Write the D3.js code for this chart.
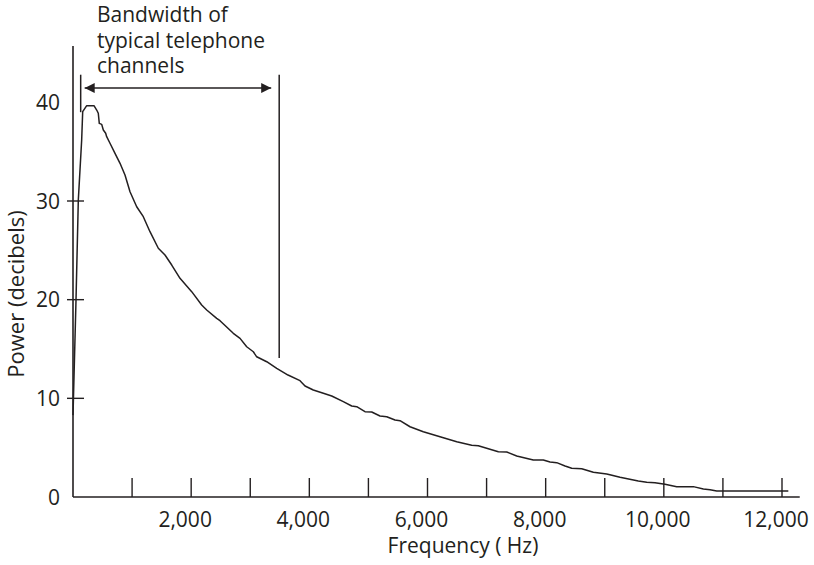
<!DOCTYPE html>
<html>
<head>
<meta charset="utf-8">
<script src="https://cdn.jsdelivr.net/npm/d3@7"></script>
<style>
 body { margin:0; background:#fff; }
 text { font-family:"Open Sans", sans-serif; fill:#231f20; }
</style>
</head>
<body>
<div id="container"></div>
<script>

// spectrum: frequency (Hz) and power (dB)
const freqs = [0,51,90,147,164,232,355,401,428,445,486,513,553,570,626,711,796,880,965,1078,1190,1303,1444,1557,1671,1811,2009,2178,2263,2432,2488,2713,2827,2940,3052,3109,3279,3448,3639,3842,3927,4067,4237,4379,4575,4717,4802,4942,5056,5196,5310,5450,5535,5704,5929,6212,6495,6748,6860,7199,7341,7510,7791,7960,8074,8187,8328,8441,8610,8807,9034,9259,9568,9711,9851,10020,10218,10499,10669,10782,10896,12107];
const power = [8.3,20.0,30.1,36.2,39.05,39.66,39.66,39.22,38.89,37.87,37.77,37.19,36.86,36.52,35.85,34.83,33.82,32.63,30.94,29.42,28.41,26.89,25.21,24.53,23.51,22.16,20.81,19.46,18.95,18.11,17.87,16.59,16.08,15.23,14.72,14.21,13.71,13.04,12.36,11.79,11.25,10.84,10.51,10.24,9.66,9.22,9.15,8.65,8.61,8.21,8.14,7.80,7.73,7.12,6.62,6.11,5.60,5.24,5.20,4.59,4.56,4.16,3.75,3.75,3.55,3.48,3.14,2.91,2.87,2.50,2.33,2.00,1.62,1.49,1.45,1.29,1.05,1.05,0.81,0.74,0.61,0.61];

const xTicks = [1000,2000,3000,4000,5000,6000,7000,8000,9000,10000,11000,12000];
const xLabels = [2000,4000,6000,8000,10000,12000];
const yTicks = [10,20,30];
const yLabels = [0,10,20,30,40];

// telephone band markers
const band = [130, 3490];
const bandTop = 42.8;
const bandBottom = [39, 14.1];
const arrowLevel = 41.45;
const noteLines = ["Bandwidth of", "typical telephone", "channels"];

const width = 814, height = 565;
const ink = "#231f20";

const x = d3.scaleLinear().domain([0,12000]).range([73,782]);
const y = d3.scaleLinear().domain([0,30]).range([497,201]);

const svg = d3.select("#container").append("svg")
  .attr("width",width).attr("height",height);

svg.append("defs").append("marker")
  .attr("id","head").attr("viewBox","0 0 10 10")
  .attr("refX",10).attr("refY",5)
  .attr("markerWidth",15).attr("markerHeight",10)
  .attr("markerUnits","userSpaceOnUse")
  .attr("orient","auto-start-reverse")
  .append("path").attr("d","M0,0L10,5L0,10Z").attr("fill",ink);

// axes
svg.append("line")
  .attr("x1",x(0)).attr("x2",x(0))
  .attr("y1",y(0)).attr("y2",y(45.7))
  .attr("stroke",ink).attr("stroke-width",1.6);
svg.append("line")
  .attr("x1",x(0)).attr("x2",x(12300))
  .attr("y1",y(0)).attr("y2",y(0))
  .attr("stroke",ink).attr("stroke-width",1.6);

svg.selectAll(".xt").data(xTicks).enter().append("line")
  .attr("x1",d => x(d)).attr("x2",d => x(d))
  .attr("y1",y(0)).attr("y2",y(0)-19)
  .attr("stroke",ink).attr("stroke-width",1.4);

svg.selectAll(".yt").data(yTicks).enter().append("line")
  .attr("x1",x(0)-6).attr("x2",x(0)+11)
  .attr("y1",d => y(d)).attr("y2",d => y(d))
  .attr("stroke",ink).attr("stroke-width",1.4);

svg.selectAll(".xl").data(xLabels).enter().append("text")
  .attr("x",d => x(d)-6).attr("y",527)
  .attr("text-anchor","middle").style("font-size","21px")
  .text(d => d3.format(",")(d));

svg.selectAll(".yl").data(yLabels).enter().append("text")
  .attr("x",x(0)-13).attr("y",d => y(d)+7.5)
  .attr("text-anchor","end").style("font-size","21px")
  .text(d => d);

svg.append("text").attr("x",463).attr("y",553)
  .attr("text-anchor","middle").style("font-size","21px")
  .text("Frequency ( Hz)");

svg.append("text")
  .attr("transform","translate(24,294) rotate(-90)")
  .attr("text-anchor","middle").style("font-size","22px")
  .text("Power (decibels)");

// curve
const line = d3.line().x(d => x(d[0])).y(d => y(d[1]));
svg.append("path")
  .datum(freqs.map((f,i) => [f, power[i]]))
  .attr("d",line).attr("fill","none")
  .attr("stroke",ink).attr("stroke-width",1.5)
  .attr("stroke-linejoin","round");

// band markers and arrow
svg.selectAll(".bm").data(band).enter().append("line")
  .attr("x1",d => x(d)).attr("x2",d => x(d))
  .attr("y1",y(bandTop)).attr("y2",(d,i) => y(bandBottom[i]))
  .attr("stroke",ink).attr("stroke-width",1.5);

svg.append("line")
  .attr("x1",x(band[0])+4).attr("x2",x(band[1])-8)
  .attr("y1",y(arrowLevel)).attr("y2",y(arrowLevel))
  .attr("stroke",ink).attr("stroke-width",1.6)
  .attr("marker-start","url(#head)").attr("marker-end","url(#head)");

svg.selectAll(".note").data(noteLines).enter().append("text")
  .attr("x",97).attr("y",(d,i) => 22 + i*25.5)
  .style("font-size","21px")
  .text(d => d);

</script>
</body>
</html>
